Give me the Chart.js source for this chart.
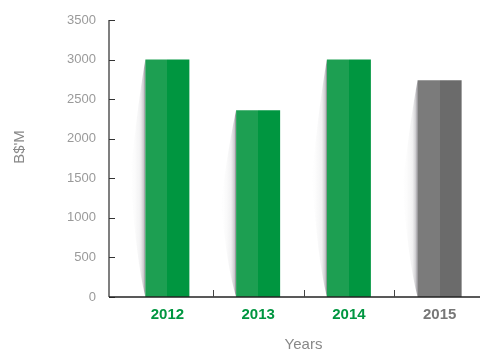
<!DOCTYPE html>
<html>
<head>
<meta charset="utf-8">
<script src="https://cdn.jsdelivr.net/npm/chart.js@4/dist/chart.umd.min.js"></script>
<style>
  html, body { margin: 0; padding: 0; background: #fff; overflow: hidden; width: 480px; height: 352px; }
  #wrap { width: 490px; height: 352px; }
</style>
</head>
<body>
<div id="wrap"><canvas id="c" width="490" height="352"></canvas></div>
<script>
const years = ['2012', '2013', '2014', '2015'];
const values = [3000, 2360, 3000, 2740];
const yTicks = [0, 500, 1000, 1500, 2000, 2500, 3000, 3500];
const lightColors = ['#1d9f52', '#1d9f52', '#1d9f52', '#7b7b7b'];
const darkColors = ['#009640', '#009640', '#009640', '#6b6b6b'];
const labelColors = ['#009640', '#009640', '#009640', '#777777'];
const yTitle = "B$'M";
const xTitle = 'Years';

const FONT = "'Liberation Sans', Arial, Helvetica, sans-serif";
const AXIS_X = 109;

function twoTone(c) {
  const i = c.dataIndex;
  const xs = c.chart.scales && c.chart.scales.x;
  if (c.type !== 'data' || !xs) return lightColors[i] || lightColors[0];
  const cx = xs.getPixelForValue(i);
  if (!isFinite(cx)) return lightColors[i];
  const g = c.chart.ctx.createLinearGradient(cx - 40, 0, cx + 40, 0);
  g.addColorStop(0, lightColors[i]);
  g.addColorStop(0.5, lightColors[i]);
  g.addColorStop(0.5, darkColors[i]);
  g.addColorStop(1, darkColors[i]);
  return g;
}

const decor = {
  id: 'decor',
  beforeDatasetsDraw(chart) {
    const ctx = chart.ctx;
    const meta = chart.getDatasetMeta(0);
    meta.data.forEach((bar) => {
      const left = bar.x - bar.width / 2;
      const top = bar.y;
      const base = bar.base;
      const h = base - top;
      const ext = 15;
      ctx.save();
      const g = ctx.createLinearGradient(left, 0, left - ext, 0);
      g.addColorStop(0, 'rgba(90,85,95,0.8)');
      g.addColorStop(0.1, 'rgba(130,128,135,0.45)');
      g.addColorStop(0.35, 'rgba(180,180,185,0.18)');
      g.addColorStop(1, 'rgba(235,235,235,0)');
      ctx.fillStyle = g;
      ctx.beginPath();
      ctx.moveTo(left, top);
      ctx.quadraticCurveTo(left - ext * 0.55, top + h * 0.2, left - ext, top + h * 0.5);
      ctx.quadraticCurveTo(left - ext * 0.6, top + h * 0.85, left, base);
      ctx.closePath();
      ctx.fill();
      ctx.restore();
    });
  },
  afterDraw(chart) {
    const ctx = chart.ctx;
    const ys = chart.scales.y;
    const xs = chart.scales.x;
    const ytop = ys.getPixelForValue(yTicks[yTicks.length - 1]);
    const y0 = ys.getPixelForValue(0);
    ctx.save();
    ctx.strokeStyle = '#555';
    ctx.lineWidth = 1.5;
    ctx.beginPath();
    ctx.moveTo(AXIS_X, ytop);
    ctx.lineTo(AXIS_X, y0);
    ctx.stroke();
    ctx.strokeStyle = '#333';
    ctx.lineWidth = 1;
    yTicks.forEach(v => {
      const y = Math.round(ys.getPixelForValue(v)) + 0.5;
      ctx.beginPath();
      ctx.moveTo(AXIS_X, y);
      ctx.lineTo(AXIS_X + 6, y);
      ctx.stroke();
    });
    ctx.strokeStyle = '#222';
    ctx.lineWidth = 1.5;
    ctx.beginPath();
    ctx.moveTo(AXIS_X, y0);
    ctx.lineTo(chart.width, y0);
    ctx.stroke();
    ctx.strokeStyle = '#444';
    ctx.lineWidth = 1;
    for (let i = 0; i < years.length - 1; i++) {
      const x = Math.round((xs.getPixelForTick(i) + xs.getPixelForTick(i + 1)) / 2) + 0.5;
      ctx.beginPath();
      ctx.moveTo(x, y0 - 7);
      ctx.lineTo(x, y0);
      ctx.stroke();
    }
    ctx.fillStyle = '#888';
    ctx.font = '15px ' + FONT;
    ctx.textAlign = 'center';
    ctx.textBaseline = 'middle';
    ctx.translate(20, 147);
    ctx.rotate(-Math.PI / 2);
    ctx.fillText(yTitle, 0, 0);
    ctx.restore();
  }
};

new Chart(document.getElementById('c'), {
  type: 'bar',
  data: {
    labels: years,
    datasets: [
      { data: values, backgroundColor: twoTone, categoryPercentage: 0.485, barPercentage: 1.0, borderWidth: 0 }
    ]
  },
  options: {
    responsive: false,
    animation: false,
    devicePixelRatio: 1,
    layout: { padding: { top: 20, right: 5, left: 0, bottom: 0 } },
    plugins: { legend: { display: false }, tooltip: { enabled: false } },
    scales: {
      x: {
        grid: { display: false },
        border: { display: false },
        ticks: {
          color: (c) => labelColors[c.index],
          font: { family: FONT, size: 15, weight: 'bold' },
          padding: 1
        },
        title: {
          display: true, text: xTitle, color: '#888',
          font: { family: FONT, size: 15 },
          padding: { top: 0, bottom: -2 }
        },
        afterFit: (s) => { s.height = 55; s.paddingLeft = 0; s.paddingRight = 0; }
      },
      y: {
        min: 0, max: 3500,
        grid: { display: false },
        border: { display: false },
        afterBuildTicks: (s) => { s.ticks = yTicks.map(v => ({ value: v })); },
        ticks: {
          color: '#9a9a9a',
          font: { family: FONT, size: 13 },
          padding: 18,
          callback: (v) => String(v)
        },
        afterFit: (s) => { s.width = 122; s.paddingTop = 0; s.paddingBottom = 0; }
      }
    }
  },
  plugins: [decor]
});
</script>
</body>
</html>
